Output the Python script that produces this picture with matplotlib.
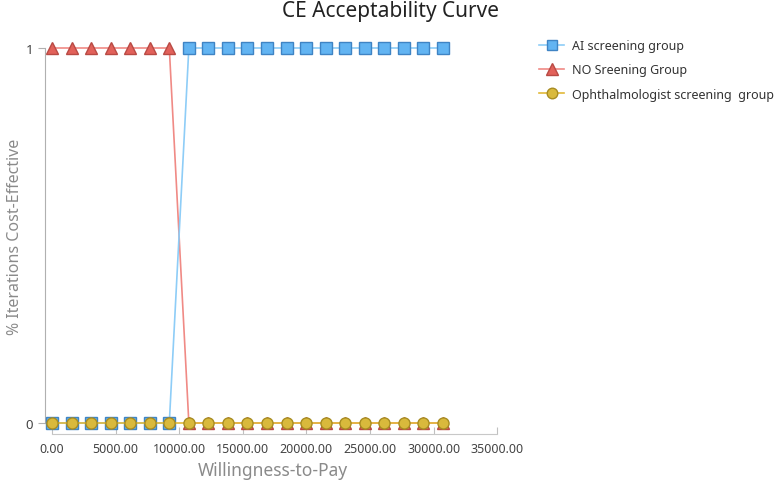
import matplotlib
matplotlib.use("Agg")
import matplotlib.pyplot as plt

plt.rcParams["font.family"] = ["Noto Sans", "DejaVu Sans"]

# willingness-to-pay grid (21 points)
wtp = [0, 1537, 3074, 4611, 6148, 7685, 9222, 10759, 12296, 13833, 15370,
       16907, 18444, 19981, 21518, 23055, 24592, 26129, 27666, 29203, 30740]
ai_group = [0] * 7 + [1] * 14
no_screening = [1] * 7 + [0] * 14
ophthalmologist = [0] * 21

x_ticks = [0, 5000, 10000, 15000, 20000, 25000, 30000, 35000]
y_ticks = [0, 1]

fig = plt.figure(figsize=(7.77, 4.81), dpi=100)
ax = fig.add_axes([45 / 777, 57 / 481, 456 / 777, 375 / 481])

ax.plot(wtp, ai_group, color="#8ECDF7", lw=1.2, marker="s", ms=8,
        mfc="#62B4F2", mec="#3F84C4", mew=1, label="AI screening group", clip_on=False, zorder=3)
ax.plot(wtp, no_screening, color="#F08A85", lw=1.2, marker="^", ms=8.5,
        mfc="#E2615A", mec="#B84A44", mew=1, label="NO Sreening Group", clip_on=False, zorder=2)
ax.plot(wtp, ophthalmologist, color="#E2B93A", lw=1.2, marker="o", ms=8,
        mfc="#D9B93C", mec="#A88C22", mew=1, label="Ophthalmologist screening  group", clip_on=False, zorder=4)

ax.set_xlim(-550, 35300)
ax.set_ylim(0, 1)
ax.set_xticks(x_ticks)
ax.set_xticklabels([f"{t:.2f}" for t in x_ticks])
ax.set_yticks(y_ticks)

for s in ["top", "right"]:
    ax.spines[s].set_visible(False)
ax.spines["bottom"].set_position(("outward", 8))
ax.spines["bottom"].set_bounds(0, 35000)
ax.spines["bottom"].set_color("#C8C8C8")
ax.spines["left"].set_color("#B0B0B0")
ax.tick_params(axis="x", colors="#C0C0C0", labelcolor="#444444", labelsize=9, length=5, direction="in", pad=6)
ax.tick_params(axis="y", colors="#B0B0B0", labelcolor="#444444", labelsize=9.5, length=5)

ax.set_xlabel("Willingness-to-Pay", color="#8A8A8A", fontsize=12.5, labelpad=4)
ax.set_ylabel("% Iterations Cost-Effective", color="#8A8A8A", fontsize=11.5, labelpad=2)
fig.text(391 / 777, 0.997, "CE Acceptability Curve", ha="center", va="top", fontsize=15, color="#222222")

ax.legend(loc="upper left", bbox_to_anchor=(528 / 777, 1 - 29 / 481), bbox_transform=fig.transFigure,
          frameon=False, fontsize=9, labelcolor="#333333", handlelength=2.0, labelspacing=0.9,
          handletextpad=0.6, markerscale=0.95)

fig.savefig("out.png", dpi=100, facecolor="white")
